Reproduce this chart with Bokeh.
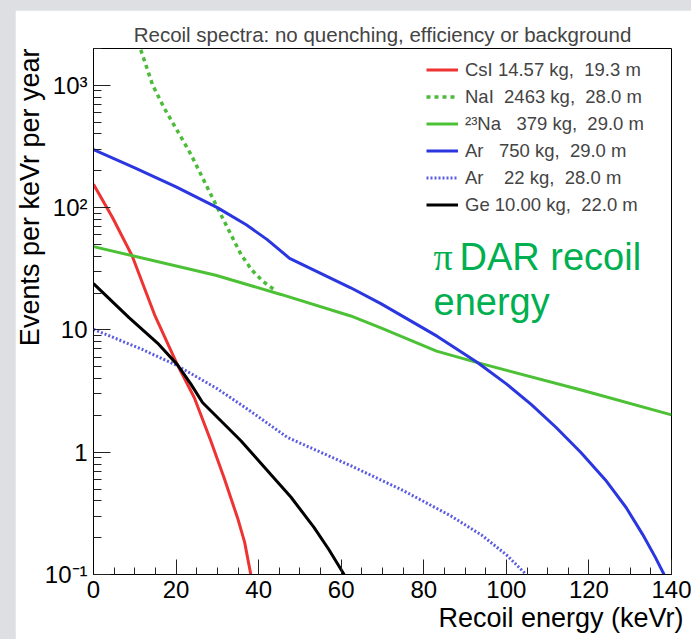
from bokeh.embed import file_html
from bokeh.layouts import column
from bokeh.models import (Label, Legend, LegendItem, LogTicker, Range1d,
                          SingleIntervalTicker, Title)
from bokeh.plotting import figure
from bokeh.resources import INLINE

# Recoil spectra, events per keVr per year, vs recoil energy (keVr)
csi_e = [0, 4.6, 9.4, 12.0, 14.8, 20.3, 24.4, 28.4, 31.6, 34.9, 36.6, 38.1]
csi_v = [155, 83, 40, 23.5, 13.3, 5.2, 2.8, 1.24, 0.62, 0.29, 0.184, 0.1]

nai_e = [11.45, 14.3, 17.1, 20.4, 23.6, 27.0, 30.0, 33.0, 35.7, 38.3, 41.0, 43.7]
nai_v = [1950, 1010, 653, 420, 272, 160, 100, 63, 41.5, 31, 25, 21.4]

na23_e = [0, 29.6, 45.4, 62.3, 69.6, 83.1, 93.0, 118.8, 140]
na23_v = [48, 28, 19.5, 13.0, 10.4, 6.7, 5.4, 3.18, 2.02]

ar750_e = [0, 10, 20, 30, 37, 42, 47.5, 62.3, 69.6, 83.3, 93, 100, 106, 112,
           118, 124, 129, 133, 136, 138.2]
ar750_v = [298, 211, 148, 100, 72.4, 55, 38.5, 22.1, 16.4, 8.85, 5.42, 3.62,
           2.46, 1.60, 1.0, 0.593, 0.353, 0.213, 0.14, 0.1]

ar22_e = [0, 11.5, 20.3, 30, 37.3, 47, 62.3, 75, 86.5, 94, 100, 104.8]
ar22_v = [10.1, 7.0, 5.1, 3.3, 2.25, 1.32, 0.776, 0.486, 0.302, 0.21, 0.145, 0.1]

ge_e = [0, 8.6, 15.5, 20.3, 23.6, 26.4, 35.7, 42.9, 47.8, 53.4, 57, 60.7]
ge_v = [23.9, 12.6, 7.8, 5.2, 3.6, 2.55, 1.24, 0.66, 0.43, 0.243, 0.16, 0.1]

NB = "\u00a0"
legend_labels = [
    "CsI 14.57 kg," + NB * 2 + "19.3 m",
    "NaI" + NB * 2 + "2463 kg," + NB * 2 + "28.0 m",
    "\u00b2\u00b3Na" + NB * 3 + "379 kg," + NB * 2 + "29.0 m",
    "Ar" + NB * 3 + "750 kg," + NB * 2 + "29.0 m",
    "Ar" + NB * 4 + "22 kg," + NB * 2 + "28.0 m",
    "Ge 10.00 kg," + NB * 2 + "22.0 m",
]

y_tick_labels = {1000: "10\u00b3", 100: "10\u00b2", 10: "10", 1: "1", 0.1: "10\u207b\u00b9"}

FONT = "Liberation Sans"

p = figure(
    width=676, height=629,
    x_range=Range1d(0, 140), y_range=Range1d(0.1, 2000),
    y_axis_type="log",
    output_backend="svg", toolbar_location=None,
    min_border_left=77, min_border_right=20,
    min_border_top=38, min_border_bottom=65,
    title="Recoil spectra: no quenching, efficiency or background",
)
p.title.align = "center"
p.title.text_font = FONT
p.title.text_font_size = "20.5px"
p.title.text_font_style = "normal"
p.title.standoff = 6
p.margin = (10, 0, 0, 15)
p.background_fill_color = "white"
p.border_fill_color = "white"
p.outline_line_color = "black"
p.outline_line_width = 1
p.xgrid.visible = False
p.ygrid.visible = False

# axes in ROOT style: ticks pointing into the frame
xa = p.xaxis[0]
xa.ticker = SingleIntervalTicker(interval=20, num_minor_ticks=4)
ya = p.yaxis[0]
ya.ticker = LogTicker(num_minor_ticks=10)
ya.major_label_overrides = y_tick_labels
for ax, maj, mnr in ((xa, 15, 7), (ya, 17, 8)):
    ax.major_tick_in = maj
    ax.major_tick_out = 0
    ax.minor_tick_in = mnr
    ax.minor_tick_out = 0
    ax.axis_line_color = "black"
    ax.major_tick_line_color = "#222222"
    ax.minor_tick_line_color = "#222222"
    ax.major_label_text_font = FONT
    ax.major_label_text_font_size = "24px"
    ax.major_label_text_color = "black"
    ax.major_label_standoff = 6

# axis titles, right-aligned at the end of each axis
p.add_layout(Title(text="Recoil energy (keVr)", align="right", offset=-12,
                   standoff=0, text_font=FONT, text_font_size="27px",
                   text_font_style="normal", text_color="black"), "below")
p.add_layout(Title(text="Events per keVr per year", align="right", offset=0,
                   standoff=-6, text_font=FONT, text_font_size="27px",
                   text_font_style="normal", text_color="black"), "left")

r_csi = p.line(csi_e, csi_v, line_color="#ee3333", line_width=3)
r_nai = p.line(nai_e, nai_v, line_color="#4cbb3a", line_width=3.5, line_dash="4 4")
r_na = p.line(na23_e, na23_v, line_color="#4cc136", line_width=3)
r_ar750 = p.line(ar750_e, ar750_v, line_color="#2a36df", line_width=3)
r_ar22 = p.line(ar22_e, ar22_v, line_color="#5c5ce2", line_width=3, line_dash="2 2")
r_ge = p.line(ge_e, ge_v, line_color="black", line_width=3)

renderers = [r_csi, r_nai, r_na, r_ar750, r_ar22, r_ge]
legend = Legend(
    items=[LegendItem(label=lab, renderers=[r]) for lab, r in zip(legend_labels, renderers)],
    location=(333, 356),
    border_line_color=None, background_fill_alpha=0,
    padding=0, margin=0, spacing=0,
    label_height=27, glyph_height=27, glyph_width=32, label_standoff=7,
    label_text_font=FONT, label_text_font_size="18.5px",
)
p.add_layout(legend)

# annotation inside the frame
GREEN = "#00b050"
p.add_layout(Label(x=418, y=246, x_units="canvas", y_units="canvas",
                   text="\u03c0", text_font="Liberation Serif",
                   text_font_size="38px", text_color=GREEN,
                   text_baseline="alphabetic"))
p.add_layout(Label(x=444, y=246, x_units="canvas", y_units="canvas",
                   text="DAR recoil", text_font=FONT,
                   text_font_size="38px", text_color=GREEN,
                   text_baseline="alphabetic"))
p.add_layout(Label(x=418, y=291, x_units="canvas", y_units="canvas",
                   text="energy", text_font=FONT,
                   text_font_size="38px", text_color=GREEN,
                   text_baseline="alphabetic"))

page = column(p, styles={"background-color": "#dddfe2"})
open("out.html", "w").write(file_html(page, INLINE))
